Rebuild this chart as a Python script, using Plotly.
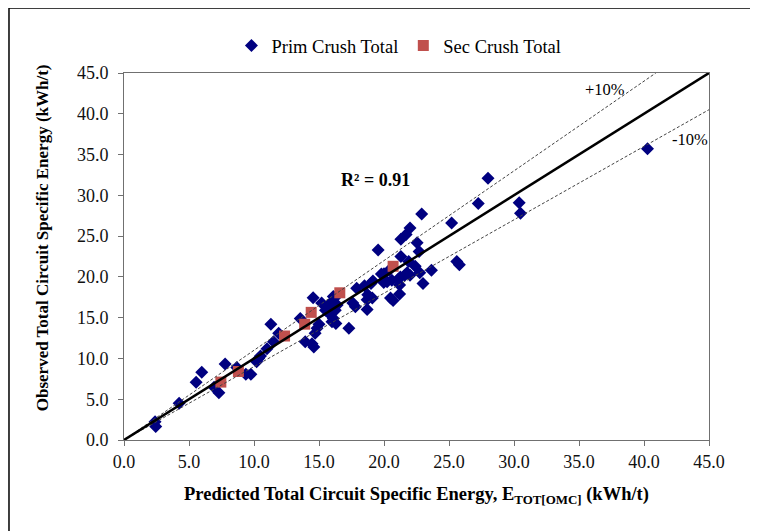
import plotly.graph_objects as go

# Prim Crush Total (predicted, observed)
prim_x = [2.39, 2.44, 4.24, 5.55, 5.98, 6.93, 7.30, 7.78, 8.68, 9.37, 9.76, 10.2, 10.35, 10.5,
          11.0, 11.3, 11.5, 11.9, 13.56, 13.94, 14.46, 14.6, 14.55, 14.85, 15.0, 14.7, 15.2,
          15.5, 15.75, 15.85, 16.1, 16.25, 16.4, 16.0, 16.3, 16.1, 16.35, 15.95,
          17.3, 17.6, 17.8, 17.9, 18.5, 18.7, 18.75, 18.7, 19.0, 19.1, 19.15, 19.55, 19.8,
          20.0, 20.4, 20.5, 20.7, 21.2, 21.2, 21.78, 21.6, 21.26, 21.1, 20.6, 20.24, 19.98,
          22.0, 21.3, 21.3, 21.7, 22.0, 22.9, 22.55, 22.7, 21.9, 22.4, 22.75, 23.0, 23.65,
          25.2, 25.6, 25.8, 27.25, 28.0, 30.4, 30.5, 40.27]
prim_y = [2.25, 1.65, 4.5, 7.07, 8.3, 6.46, 5.8, 9.32, 8.9, 8.05, 8.05, 9.6, 10.0, 10.3,
          11.2, 14.2, 12.05, 13.1, 14.9, 12.05, 11.8, 11.4, 17.45, 13.7, 14.2, 13.1, 16.8,
          15.9, 16.35, 15.4, 14.9, 15.9, 16.55, 14.5, 14.3, 17.6, 17.65, 16.9,
          13.7, 16.8, 16.35, 18.6, 18.9, 17.2, 17.8, 16.0, 19.2, 17.4, 19.5, 23.3, 20.35,
          20.4, 20.8, 17.4, 17.1, 17.9, 19.0, 20.5, 20.2, 20.0, 19.7, 19.6, 19.4, 19.3,
          20.2, 22.5, 24.6, 25.2, 26.0, 27.7, 24.2, 23.1, 21.9, 21.3, 20.5, 19.2, 20.8,
          26.6, 21.9, 21.5, 29.0, 32.1, 29.1, 27.8, 35.7]

# Sec Crush Total
sec_x = [7.45, 8.8, 12.35, 13.9, 14.4, 16.6, 20.7]
sec_y = [7.1, 8.4, 12.75, 14.2, 15.65, 18.05, 21.3]

ticks = [0, 5, 10, 15, 20, 25, 30, 35, 40, 45]
tick_labels = ["0.0", "5.0", "10.0", "15.0", "20.0", "25.0", "30.0", "35.0", "40.0", "45.0"]

line_x = [0, 45]
line_y = [0, 45]
plus_x = [0, 45 / 1.1]
plus_y = [0, 45]
minus_x = [0, 45]
minus_y = [0, 45 * 0.9]

FONT = '"Liberation Serif", "Times New Roman", serif'

fig = go.Figure()
fig.add_trace(go.Scatter(x=prim_x, y=prim_y, mode="markers", name="Prim Crush Total",
                         marker=dict(symbol="diamond", size=10, color="#000080")))
fig.add_trace(go.Scatter(x=sec_x, y=sec_y, mode="markers", name="Sec Crush Total",
                         marker=dict(symbol="square", size=11, color="#C0504D")))
fig.add_trace(go.Scatter(x=plus_x, y=plus_y, mode="lines", showlegend=False, hoverinfo="skip",
                         line=dict(color="#444444", width=1, dash="3px,2px")))
fig.add_trace(go.Scatter(x=minus_x, y=minus_y, mode="lines", showlegend=False, hoverinfo="skip",
                         line=dict(color="#444444", width=1, dash="3px,2px")))
fig.add_trace(go.Scatter(x=line_x, y=line_y, mode="lines", showlegend=False, hoverinfo="skip",
                         line=dict(color="black", width=2.5)))

axis_common = dict(range=[0, 45], tickvals=ticks, ticktext=tick_labels, showgrid=False,
                   zeroline=False, showline=True, linecolor="#707070", linewidth=1,
                   mirror=True, ticks="outside", ticklen=5, tickcolor="#707070",
                   tickfont=dict(family=FONT, size=18, color="#111111"))

fig.update_xaxes(**axis_common)
fig.update_yaxes(**axis_common, ticklabelstandoff=6)

fig.update_layout(
    width=758, height=531,
    margin=dict(l=116, r=57, t=65, b=99),
    paper_bgcolor="white", plot_bgcolor="white",
    font=dict(family=FONT, size=18, color="black"),
    showlegend=True,
    legend=dict(orientation="h", x=0.47, xanchor="center", y=1.022, yanchor="bottom",
                font=dict(family=FONT, size=18.5, color="black"), itemwidth=30,
                bgcolor="rgba(0,0,0,0)"),
    annotations=[
        dict(text="<b>Predicted Total Circuit Specific Energy, E<sub>TOT[OMC]</sub> (kWh/t)</b>",
             xref="paper", yref="paper", x=0.5, y=-0.15, xanchor="center", yanchor="middle",
             showarrow=False, font=dict(family=FONT, size=18.5, color="black")),
        dict(text="<b>Observed Total Circuit Specific Energy (kWh/t)</b>",
             xref="paper", yref="paper", x=-0.14, y=0.55, xanchor="center", yanchor="middle",
             textangle=-90, showarrow=False, font=dict(family=FONT, size=17, color="black")),
        dict(text="<b>R² = 0.91</b>", xref="x", yref="y", x=19.34, y=31.9,
             showarrow=False, font=dict(family=FONT, size=18, color="black")),
        dict(text="+10%", xref="x", yref="y", x=37.0, y=43.0,
             showarrow=False, font=dict(family=FONT, size=16.5, color="black")),
        dict(text="-10%", xref="x", yref="y", x=43.5, y=36.8,
             showarrow=False, font=dict(family=FONT, size=16.5, color="black")),
    ],
    shapes=[
        dict(type="rect", xref="paper", yref="paper", x0=-0.1966, x1=1.09, y0=-0.26, y1=1.177,
             line=dict(color="black", width=1.5), fillcolor="rgba(0,0,0,0)", layer="below"),
    ],
)

fig.write_html("out.html")
